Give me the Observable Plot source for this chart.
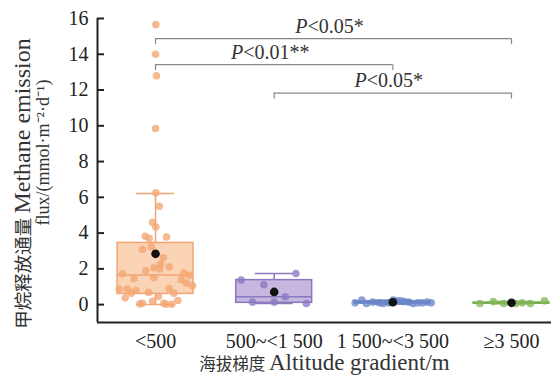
<!DOCTYPE html>
<html><head><meta charset="utf-8">
<script src="https://cdn.jsdelivr.net/npm/d3@7"></script>
<script src="https://cdn.jsdelivr.net/npm/@observablehq/plot@0.6"></script>
<style>body{margin:0;background:#fff} svg{display:block}</style>
</head><body><div id="chart"></div>
<script>
// categories
const groups = ["<500", "500~<1 500", "1 500~<3 500", "≥3 500"];
// box statistics per group
const q1 = [0.60, 0.10, 0.07, 0.06];
const median = [1.66, 0.44, 0.10, 0.07];
const q3 = [3.45, 1.37, 0.17, 0.12];
const whiskerLow = [0.0, 0.06, 0.04, 0.05];
const whiskerHigh = [6.22, 1.74, 0.25, 0.17];
const means = [2.84, 0.71, 0.13, 0.10];
// individual observations (value, horizontal jitter in category units)
const values1 = [15.66, 14.0, 12.8, 9.85, 6.25, 5.50, 4.60, 4.34, 3.82, 3.70, 3.78, 3.24, 3.08, 2.62, 2.25, 2.06, 1.99, 2.10, 1.91, 1.73, 1.76, 1.65, 1.46, 1.50, 1.39, 1.20, 1.05, 0.87, 0.87, 0.79, 0.64, 0.68, 0.90, 0.64, 0.38, 0.45, 0.19, 0.23, 0.04, 0.08, 0.08, 0.02, 0.02];
const jitter1 = [0.003, 0, 0.008, 0, 0.003, 0.031, -0.025, 0.003, -0.087, -0.053, 0.093, -0.036, -0.110, 0.065, 0.042, -0.014, 0.036, 0.115, -0.082, -0.278, 0.238, 0.284, -0.183, -0.014, 0.217, 0.261, 0.312, -0.306, -0.238, -0.166, -0.205, -0.059, 0.115, 0.154, -0.255, 0.025, -0.025, 0.188, -0.132, -0.110, 0.070, 0.087, 0.137];
const values2 = [1.37, 1.74, 1.11, 0.44, 0.14, 0.14, 0.06];
const jitter2 = [-0.278, 0.183, -0.087, 0.093, -0.183, 0, 0.272];
const values3 = [0.10, 0.25, 0.06, 0.14, 0.10, 0.06, 0.10, 0.25, 0.21, 0.21, 0.17, 0.14, 0.06, 0.10, 0.10, 0.14, 0.10];
const jitter3 = [-0.318, -0.261, -0.222, -0.171, -0.115, -0.082, -0.036, 0.003, 0.031, 0.065, 0.093, 0.132, 0.171, 0.211, 0.250, 0.289, 0.323];
const values4 = [0.06, 0.17, 0.06, 0.06, 0.10, 0.06, 0.21];
const jitter4 = [-0.267, -0.154, -0.065, 0.036, 0.09, 0.16, 0.278];
// significance brackets
const bracketFrom = [0, 0, 1];
const bracketTo = [3, 2, 3];
const bracketLevel = [14.87, 13.42, 11.83];
const bracketLabel = ["P<0.05*", "P<0.01**", "P<0.05*"];
// axis ticks and titles
const yTicks = [0, 2, 4, 6, 8, 10, 12, 14, 16];
const yTitle1 = ["甲烷释放通量", "Methane emission"];
const yTitle2 = "flux/(mmol·m⁻²·d⁻¹)";
const xTitle = ["海拔梯度", "Altitude gradient/m"];

const pointColors = ["#f2a672", "#8b79c0", "#6b86c9", "#85b65b"];
const boxFills = ["#fbd3b5", "#c5b7de", "#7f97d2", "#9cc57a"];
const boxStrokes = ["#f0a577", "#8b79c0", "#5b76c0", "#7bb050"];

const boxes = groups.map((g, i) => ({i, q1: q1[i], median: median[i], q3: q3[i], lo: whiskerLow[i], hi: whiskerHigh[i], mean: means[i]}));
const points = [];
[[values1, jitter1], [values2, jitter2], [values3, jitter3], [values4, jitter4]].forEach(([vals, jit], g) => {
  vals.forEach((v, k) => points.push({g, x: g + jit[k], y: v}));
});
const brackets = bracketFrom.map((f, i) => ({from: f, to: bracketTo[i], y: bracketLevel[i], label: bracketLabel[i]}));

const xMin = -0.489, xMax = 3.337;
const hw = 0.32, cw = 0.16;
const font = "'Liberation Serif', 'Times New Roman', 'Noto Sans CJK SC', serif";

const chart = Plot.plot({
  width: 551, height: 379,
  marginLeft: 97, marginRight: 0, marginTop: 18, marginBottom: 57,
  x: {domain: [xMin, xMax], axis: null},
  y: {domain: [-1, 16], axis: null},
  style: {fontFamily: font, background: "white", color: "#222"},
  marks: [
    // whiskers
    Plot.ruleX(boxes, {x: "i", y1: "q3", y2: "hi", stroke: d => boxStrokes[d.i], strokeWidth: 1.5}),
    Plot.ruleX(boxes, {x: "i", y1: "q1", y2: "lo", stroke: d => boxStrokes[d.i], strokeWidth: 1.5}),
    Plot.ruleY(boxes, {y: "hi", x1: d => d.i - cw, x2: d => d.i + cw, stroke: d => boxStrokes[d.i], strokeWidth: 1.5}),
    Plot.ruleY(boxes, {y: "lo", x1: d => d.i - cw, x2: d => d.i + cw, stroke: d => boxStrokes[d.i], strokeWidth: 1.5}),
    // boxes
    Plot.rect(boxes, {x1: d => d.i - hw, x2: d => d.i + hw, y1: "q1", y2: "q3", fill: d => boxFills[d.i], stroke: d => boxStrokes[d.i], strokeWidth: 1.5}),
    Plot.ruleY(boxes, {y: "median", x1: d => d.i - hw, x2: d => d.i + hw, stroke: d => boxStrokes[d.i], strokeWidth: 1.5}),
    // points
    Plot.dot(points, {x: "x", y: "y", r: 3.8, fill: d => pointColors[d.g], fillOpacity: 0.78, stroke: "none"}),
    // means
    Plot.dot(boxes, {x: "i", y: "mean", r: 4.3, fill: "#111", stroke: "none"}),
    // axes
    Plot.ruleX([xMin], {y1: -1, y2: 16, stroke: "#222", strokeWidth: 2}),
    Plot.ruleY([-1], {stroke: "#222", strokeWidth: 2}),
    Plot.axisY(yTicks, {tickSize: -7, tickPadding: 16, fontSize: 20, strokeWidth: 2, label: null, tickFormat: d => String(d)}),
    Plot.axisX([0, 1, 2, 3], {tickSize: 0, tickPadding: 11, fontSize: 20, label: null, tickFormat: i => groups[i]}),
    // brackets
    Plot.ruleY(brackets, {y: "y", x1: "from", x2: "to", stroke: "#888", strokeWidth: 1.2}),
    Plot.ruleX(brackets, {x: "from", y1: "y", y2: d => d.y - 0.33, stroke: "#888", strokeWidth: 1.2}),
    Plot.ruleX(brackets, {x: "to", y1: "y", y2: d => d.y - 0.33, stroke: "#888", strokeWidth: 1.2}),
    Plot.text(brackets, {x: d => (d.from + d.to) / 2, y: "y", text: "label", lineAnchor: "bottom", dy: -6, dx: -4, fontSize: 20, fill: "#333", className: "sig"}),
    // titles
    Plot.text([yTitle1.join(" ")], {frameAnchor: "left", textAnchor: "middle", lineAnchor: "middle", dx: -75, dy: 13, rotate: -90, fontSize: 24, fill: "#333", className: "ytitle1"}),
    Plot.text([yTitle2], {frameAnchor: "left", textAnchor: "middle", lineAnchor: "middle", dx: -54, dy: -18, rotate: -90, fontSize: 18, fill: "#333"}),
    Plot.text([xTitle.join(" ")], {frameAnchor: "bottom", textAnchor: "middle", lineAnchor: "middle", dy: 40, fontSize: 23, fill: "#333", className: "xtitle"})
  ]
});
document.getElementById("chart").appendChild(chart);
// italic P in significance labels
d3.select(chart).selectAll("g.sig text").each(function() {
  const t = this.textContent;
  if (t.startsWith("P")) {
    const sel = d3.select(this);
    sel.text(null);
    sel.append("tspan").attr("font-style", "italic").text("P");
    sel.append("tspan").text(t.slice(1));
  }
});
// separate size for the CJK part in mixed titles
function mixed(cls, parts, cjkSize) {
  d3.select(chart).selectAll(`g.${cls} text`).each(function() {
    const sel = d3.select(this);
    sel.text(null);
    sel.append("tspan").attr("font-size", cjkSize).attr("font-family", "'Noto Sans CJK SC'").text(parts[0] + " ");
    sel.append("tspan").text(parts[1]);
  });
}
mixed("ytitle1", yTitle1, 18.5);
mixed("xtitle", xTitle, 16.5);
</script>
</body></html>
